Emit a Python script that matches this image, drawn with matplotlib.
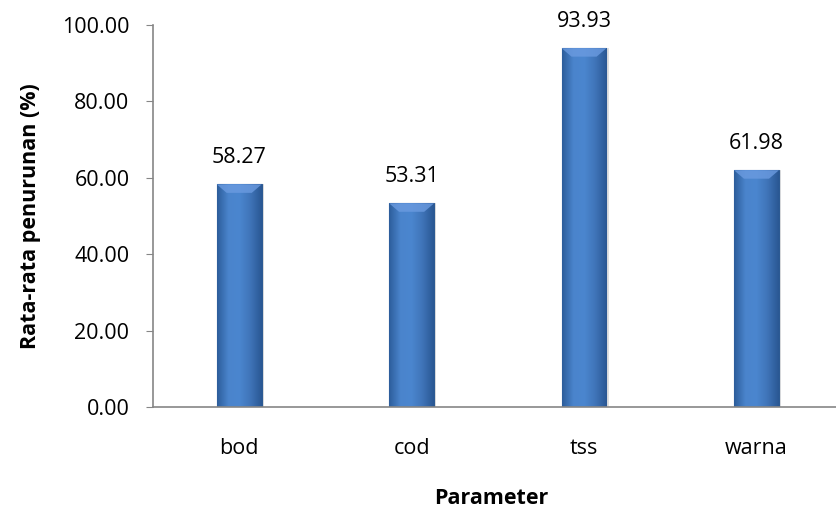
import numpy as np
import matplotlib.pyplot as plt
from matplotlib.colors import LinearSegmentedColormap

categories = ['bod', 'cod', 'tss', 'warna']
values = [58.27, 53.31, 93.93, 61.98]
yticks = [0, 20, 40, 60, 80, 100]

plt.rcParams['font.family'] = ['Open Sans', 'DejaVu Sans']
fs = 15.5

fig = plt.figure(figsize=(8.36, 5.13), dpi=100)
ax = fig.add_axes([0.183, 0.2066, 0.825, 0.7446])

x = np.arange(len(categories))
width = 0.26
bars = ax.bar(x, values, width=width, color='#4a7ebb', edgecolor='#2c5a93', linewidth=0.8, zorder=2)

# horizontal gradient inside each bar, lighter bevel at top
cmap = LinearSegmentedColormap.from_list('bev', ['#2d5e9c', '#4a84cc', '#4b86cf', '#3f74b8', '#2a5894'])
grad = np.linspace(0, 1, 64).reshape(1, -1)
for b in bars:
    x0, w, h = b.get_x(), b.get_width(), b.get_height()
    im = ax.imshow(grad, cmap=cmap, aspect='auto', extent=[x0, x0 + w, 0, h], zorder=2.5)
    im.set_clip_path(b)
    bev = 2.2
    ax.fill([x0, x0 + w, x0 + w * 0.78, x0 + w * 0.22], [h, h, h - bev, h - bev],
            color='#6b9be0', alpha=0.8, lw=0, zorder=3)
    ax.bar(b.get_x() + w / 2 + 0.012, h, width=w, color='#000000', alpha=0.12, zorder=1.5)
    ax.text(b.get_x() + w / 2, h + 4.2, f'{h:.2f}', ha='center', va='bottom', fontsize=fs)

ax.set_xlim(-0.5, len(categories) - 0.5)
ax.set_ylim(0, 100)
ax.set_yticks(yticks)
ax.set_yticklabels([f'{v:.2f}' for v in yticks], fontsize=fs)
ax.set_xticks(x)
ax.set_xticklabels(categories, fontsize=fs)
ax.tick_params(axis='x', length=0, pad=22)
ax.tick_params(axis='y', length=5, direction='out', color='#868686', pad=12)

for s in ['top', 'right']:
    ax.spines[s].set_visible(False)
for s in ['left', 'bottom']:
    ax.spines[s].set_color('#868686')
    ax.spines[s].set_linewidth(1.2)

ax.set_ylabel('Rata-rata penurunan (%)', fontsize=fs, fontweight='bold', va='center')
ax.yaxis.set_label_coords(-0.178, 0.5)
ax.set_xlabel('Parameter', fontsize=fs, fontweight='bold', va='center')
ax.xaxis.set_label_coords(0.49, -0.24)

fig.savefig('out.png', dpi=100)
